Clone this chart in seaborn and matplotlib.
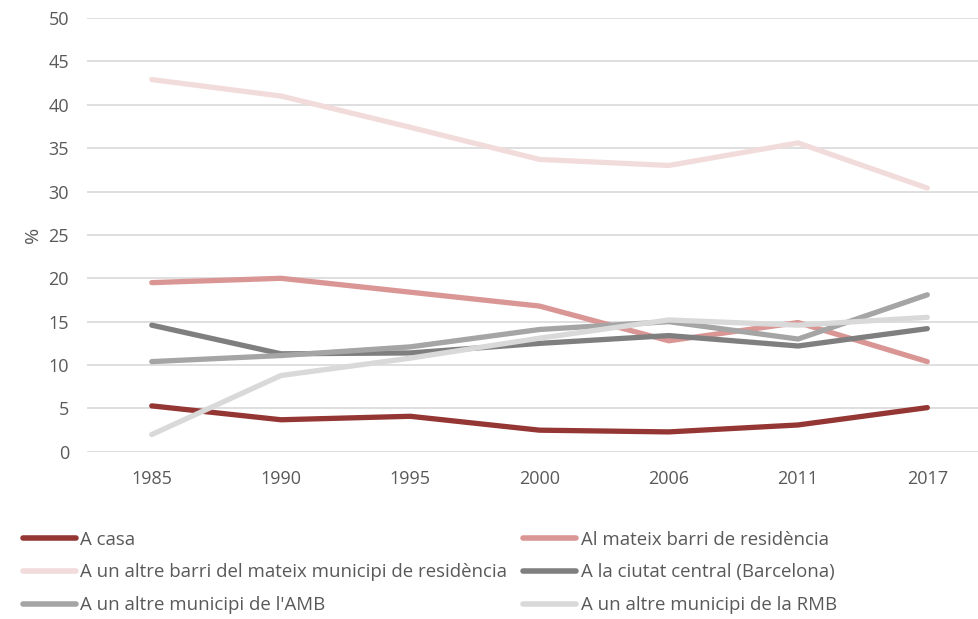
import seaborn as sns
import pandas as pd
import matplotlib.pyplot as plt

sns.set_theme(style="white")
plt.rcParams['font.family'] = ['Open Sans', 'DejaVu Sans']

years = ["1985", "1990", "1995", "2000", "2006", "2011", "2017"]

a_casa = [5.3, 3.7, 4.1, 2.5, 2.3, 3.1, 5.1]
mateix_barri = [19.5, 20.0, 18.4, 16.8, 12.8, 14.9, 10.4]
altre_barri = [42.9, 41.0, 37.4, 33.7, 33.0, 35.6, 30.4]
ciutat_central = [14.6, 11.3, 11.4, 12.5, 13.4, 12.2, 14.2]
altre_amb = [10.4, 11.1, 12.1, 14.1, 15.0, 13.0, 18.1]
altre_rmb = [2.0, 8.8, 10.8, 13.1, 15.2, 14.6, 15.5]

series = {
    "A casa": a_casa,
    "Al mateix barri de residència": mateix_barri,
    "A un altre barri del mateix municipi de residència": altre_barri,
    "A la ciutat central (Barcelona)": ciutat_central,
    "A un altre municipi de l'AMB": altre_amb,
    "A un altre municipi de la RMB": altre_rmb,
}
colors = ["#943634", "#D99694", "#F2DCDB", "#7F7F7F", "#A5A5A5", "#D9D9D9"]

rows = []
for name, vals in series.items():
    for i, (yr, v) in enumerate(zip(years, vals)):
        rows.append({"pos": i, "year": yr, "serie": name, "value": v})
df = pd.DataFrame(rows)

fig = plt.figure(figsize=(9.79, 6.19), dpi=100)
ax = fig.add_axes([0.089, 0.27, 0.911, 0.701])

sns.lineplot(data=df, x="pos", y="value", hue="serie", palette=colors,
             linewidth=3.8, sort=False, ax=ax, legend=True)
for ln in ax.lines:
    ln.set_solid_capstyle("round")
    ln.set_solid_joinstyle("round")

ax.set_ylim(0, 50)
ax.set_yticks(range(0, 51, 5))
ax.set_xlim(-0.5, 6.4)
ax.set_xticks(range(len(years)))
ax.set_xticklabels(years)
ax.yaxis.grid(True, color="#D9D9D9", linewidth=1.2)
ax.set_axisbelow(True)
for s in ax.spines.values():
    s.set_visible(False)
ax.tick_params(axis="both", colors="#595959", labelsize=13, length=0)
ax.tick_params(axis="x", pad=13)
ax.tick_params(axis="y", pad=13)
ax.set_xlabel("")
ax.set_ylabel("%", color="#595959", fontsize=14, labelpad=5)

handles, labels = ax.get_legend_handles_labels()
ax.get_legend().remove()
order = [0, 2, 4, 1, 3, 5]
leg = fig.legend([handles[i] for i in order], [labels[i] for i in order],
                 loc="upper left", bbox_to_anchor=(0.006, 0.17), ncol=2,
                 frameon=False, fontsize=13.4, handlelength=2.85,
                 handletextpad=0.25, columnspacing=0.85, labelspacing=0.8,
                 labelcolor="#595959")
for h in leg.legend_handles:
    h.set_linewidth(4)
    h.set_solid_capstyle("round")

fig.savefig("out.png", dpi=100)
